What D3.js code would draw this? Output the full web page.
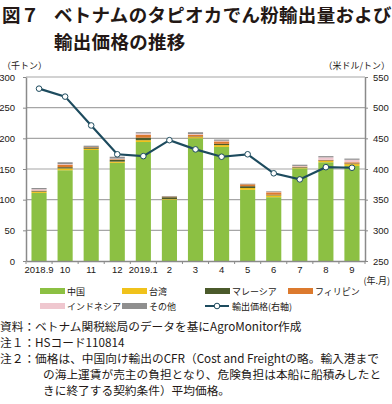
<!DOCTYPE html>
<html>
<head>
<meta charset="utf-8">
<script src="https://cdn.jsdelivr.net/npm/d3@7"></script>
<style>
  body { margin: 0; background: #fff; }
  svg { display: block; font-family: "Noto Sans CJK JP", "Noto Sans", sans-serif; }
</style>
</head>
<body>
<svg id="chart" width="392" height="404"></svg>
<script>
const months = ["2018.9", "10", "11", "12", "2019.1", "2", "3", "4", "5", "6", "7", "8", "9"];

// 千トン
const china       = [111, 148, 181, 160, 194, 100, 200, 186, 116, 104, 151, 161, 155];
const taiwan      = [2, 3, 2, 2, 3, 1, 2, 3, 3, 3, 1, 2, 3];
const malaysia    = [1, 2, 2, 3, 4, 3, 1, 2, 3, 1, 1, 1, 1];
const philippines = [1, 4, 1, 1, 5, 1, 3, 4, 3, 4, 1, 1, 2];
const indonesia   = [2, 1, 0, 1, 2, 0, 1, 1, 0, 1, 1, 4, 4];
const others      = [2, 3, 2, 3, 2, 1, 3, 2, 1, 1, 2, 2, 2];

// 米ドル/トン
const price = [531, 518, 471, 424, 421, 447, 432, 420, 424, 393, 383, 403, 402];

const leftTicks = [0, 50, 100, 150, 200, 250, 300];
const rightTicks = [250, 300, 350, 400, 450, 500, 550];

const series = [
  { key: "china", name: "中国", values: china, color: "#8cc043" },
  { key: "taiwan", name: "台湾", values: taiwan, color: "#f0c21b" },
  { key: "malaysia", name: "マレーシア", values: malaysia, color: "#4b5a2b" },
  { key: "philippines", name: "フィリピン", values: philippines, color: "#dc7a2e" },
  { key: "indonesia", name: "インドネシア", values: indonesia, color: "#efc7cf" },
  { key: "others", name: "その他", values: others, color: "#8f8f8f" }
];

const lineColor = "#1d4b5e";
const axisColor = "#8a8a8a";
const textColor = "#231815";

const svg = d3.select("#chart");
const plotLeft = 26, plotRight = 365, plotTop = 77, plotBottom = 261;

// 行ごとのテーブルにしてstackに渡す
const table = months.map((m, i) => {
  const row = { month: m };
  series.forEach(s => row[s.key] = s.values[i]);
  return row;
});
const stacked = d3.stack().keys(series.map(s => s.key))(table);

const x = d3.scaleBand().domain(months).range([plotLeft, plotRight])
  .paddingInner(0.42).paddingOuter(0.21);
const y = d3.scaleLinear().domain([0, 300]).range([plotBottom, plotTop]);
const y2 = d3.scaleLinear().domain([250, 550]).range([plotBottom, plotTop]);

// タイトル
const title = svg.append("g").attr("fill", textColor)
  .attr("font-weight", "bold").attr("font-size", 18.5).attr("letter-spacing", 0.3);
title.append("text").attr("x", 2).attr("y", 22).text("図７");
title.append("text").attr("x", 54).attr("y", 22).text("ベトナムのタピオカでん粉輸出量および");
title.append("text").attr("x", 54).attr("y", 49).text("輸出価格の推移");

// 単位
svg.append("text").attr("x", 2).attr("y", 69).attr("font-size", 9)
  .attr("fill", textColor).text("（千トン）");
svg.append("text").attr("x", 390).attr("y", 69).attr("font-size", 9)
  .attr("text-anchor", "end").attr("fill", textColor).text("（米ドル/トン）");

// グリッド
svg.append("g")
  .selectAll("line")
  .data(leftTicks.filter(d => d > 0))
  .join("line")
  .attr("x1", plotLeft).attr("x2", plotRight)
  .attr("y1", d => y(d)).attr("y2", d => y(d))
  .attr("stroke", "#a6a6a6").attr("stroke-width", 1.2);

// 棒
svg.append("g")
  .selectAll("g")
  .data(stacked)
  .join("g")
  .attr("fill", (d, i) => series[i].color)
  .selectAll("rect")
  .data(d => d)
  .join("rect")
  .attr("x", d => x(d.data.month))
  .attr("width", x.bandwidth())
  .attr("y", d => y(d[1]))
  .attr("height", d => y(d[0]) - y(d[1]));

// 軸
function styleAxis(g) {
  g.select(".domain").attr("stroke", axisColor).attr("stroke-width", 1.5);
  g.selectAll(".tick line").attr("stroke", axisColor);
  g.selectAll(".tick text").attr("fill", textColor)
    .attr("font-family", "'Liberation Sans', Arial, sans-serif").attr("font-size", 9.5);
}

svg.append("g").attr("transform", `translate(${plotLeft},0)`)
  .call(d3.axisLeft(y).tickValues(leftTicks).tickSize(3).tickSizeOuter(0).tickPadding(8))
  .call(styleAxis);

svg.append("g").attr("transform", `translate(${plotRight},0)`)
  .call(d3.axisRight(y2).tickValues(rightTicks).tickSize(3).tickSizeOuter(0).tickPadding(5))
  .call(styleAxis);

svg.append("g").attr("transform", `translate(0,${plotBottom})`)
  .call(d3.axisBottom(x).tickSize(0).tickPadding(5))
  .call(styleAxis);

// カテゴリ境界の目盛り
svg.append("g")
  .selectAll("line")
  .data(d3.range(months.length + 1))
  .join("line")
  .attr("x1", i => plotLeft + i * x.step()).attr("x2", i => plotLeft + i * x.step())
  .attr("y1", plotBottom).attr("y2", plotBottom + 3)
  .attr("stroke", axisColor);

svg.append("text").attr("x", 390).attr("y", 284).attr("text-anchor", "end")
  .attr("font-size", 9).attr("fill", textColor).text("(年.月)");

// 輸出価格の線
const cx = m => x(m) + x.bandwidth() / 2;
svg.append("path")
  .datum(price)
  .attr("fill", "none").attr("stroke", lineColor).attr("stroke-width", 2.2)
  .attr("d", d3.line().x((d, i) => cx(months[i])).y(d => y2(d)));

svg.append("g")
  .selectAll("circle")
  .data(price)
  .join("circle")
  .attr("cx", (d, i) => cx(months[i])).attr("cy", d => y2(d))
  .attr("r", 2.8).attr("fill", "#fff").attr("stroke", lineColor).attr("stroke-width", 1);

// 凡例
const legendItems = series.concat([{ name: "輸出価格(右軸)", line: true }]);
const legendPos = [[40, 291], [122, 291], [205, 291], [288, 291], [40, 306], [122, 306], [205, 306]];
const legend = svg.append("g").attr("font-size", 9).attr("fill", textColor);
legendItems.forEach((d, i) => {
  const [lx, ly] = legendPos[i];
  const g = legend.append("g").attr("transform", `translate(${lx},${ly})`);
  if (d.line) {
    g.append("line").attr("x1", 0).attr("x2", 24).attr("y1", 0).attr("y2", 0)
      .attr("stroke", lineColor).attr("stroke-width", 2);
    g.append("circle").attr("cx", 12).attr("cy", 0).attr("r", 2.8)
      .attr("fill", "#fff").attr("stroke", lineColor);
  } else {
    g.append("rect").attr("x", 0).attr("y", -3).attr("width", 25).attr("height", 6)
      .attr("fill", d.color);
  }
  g.append("text").attr("x", 27).attr("y", 3.5).text(d.name);
});

// 注記
const notes = [
  [0, 331, "資料：ベトナム関税総局のデータを基にAgroMonitor作成"],
  [0, 347, "注１：HSコード110814"],
  [0, 363, "注２：価格は、中国向け輸出のCFR（Cost and Freightの略。輸入港まで"],
  [43, 379, "の海上運賃が売主の負担となり、危険負担は本船に船積みしたと"],
  [43, 395, "きに終了する契約条件）平均価格。"]
];
svg.append("g").attr("font-size", 11.7).attr("fill", textColor)
  .selectAll("text")
  .data(notes)
  .join("text")
  .attr("x", d => d[0]).attr("y", d => d[1])
  .text(d => d[2]);
</script>
</body>
</html>
